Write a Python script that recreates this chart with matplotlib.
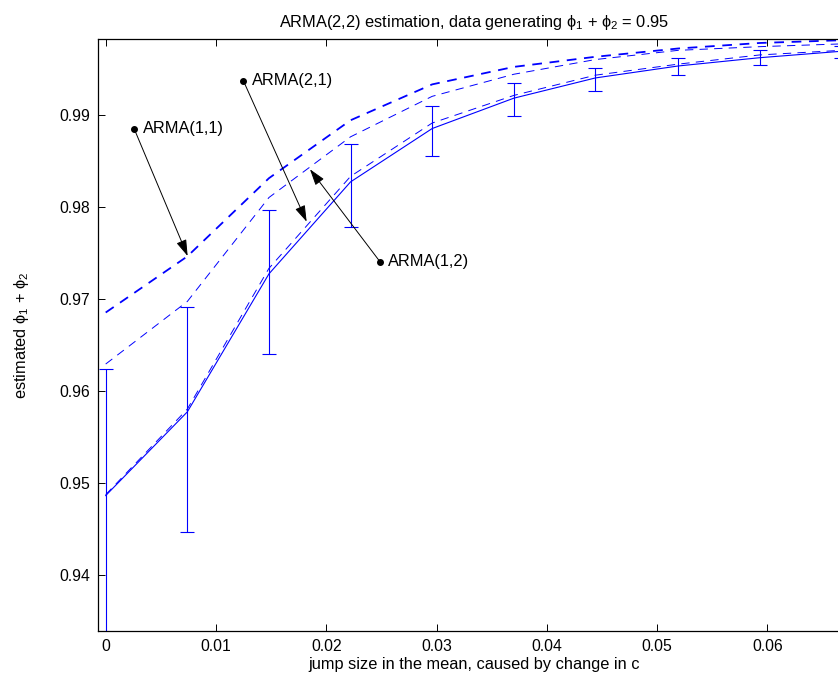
import matplotlib
matplotlib.use('Agg')
import matplotlib.pyplot as plt
import numpy as np

plt.rcParams['font.family'] = ['Liberation Sans', 'DejaVu Sans']
plt.rcParams['mathtext.fontset'] = 'custom'
plt.rcParams['mathtext.rm'] = 'Liberation Sans'
plt.rcParams['mathtext.it'] = 'Liberation Sans'
plt.rcParams['lines.scale_dashes'] = False

# DATA
jump = [0, 0.0074, 0.0148, 0.0222, 0.0296, 0.0370, 0.0444, 0.0519, 0.0593, 0.0667]
arma22 = [0.9486, 0.9577, 0.9727, 0.9827, 0.9885, 0.9918, 0.9940, 0.9953, 0.9962, 0.9969]
arma22_lo = [0.9330, 0.9446, 0.9640, 0.9778, 0.9855, 0.9899, 0.9926, 0.9943, 0.9954, 0.9962]
arma22_hi = [0.9624, 0.9691, 0.9796, 0.9868, 0.9910, 0.9935, 0.9951, 0.9962, 0.9970, 0.9975]
arma11 = [0.9685, 0.9746, 0.9831, 0.9894, 0.9933, 0.9952, 0.9963, 0.9972, 0.9978, 0.9981]
arma12 = [0.9629, 0.9697, 0.9810, 0.9876, 0.9920, 0.9944, 0.9960, 0.9970, 0.9974, 0.9977]
arma21 = [0.9487, 0.9580, 0.9733, 0.9833, 0.9891, 0.9921, 0.9943, 0.9955, 0.9965, 0.9970]

xticks = [0, 0.01, 0.02, 0.03, 0.04, 0.05, 0.06]
xticklabels = ['0', '0.01', '0.02', '0.03', '0.04', '0.05', '0.06']
yticks = [0.94, 0.95, 0.96, 0.97, 0.98, 0.99]
yticklabels = ['0.94', '0.95', '0.96', '0.97', '0.98', '0.99']

# annotation labels: (label, tail point with dot, arrow head point)
notes = [
    ('ARMA(1,1)', (0.00259, 0.98845), (0.00743, 0.97464)),
    ('ARMA(2,1)', (0.01248, 0.99370), (0.01822, 0.97837)),
    ('ARMA(1,2)', (0.02487, 0.97402), (0.01852, 0.98407)),
]

fs = 11.8

fig = plt.figure(figsize=(8.38, 6.81), dpi=100)
ax = fig.add_axes([98.3 / 838, 50 / 681, (850 - 98.3) / 838, (631 - 39.3) / 681])

blue = (0, 0, 1)
x = np.array(jump)
m = np.array(arma22)
yerr = [m - np.array(arma22_lo), np.array(arma22_hi) - m]

# estimated models (dashed)
ax.plot(x, arma11, color=blue, lw=1.3, linestyle=(0, (7, 5.5)))
ax.plot(x, arma12, color=blue, lw=0.7, linestyle=(0, (6, 4.5)))
ax.plot(x, arma21, color=blue, lw=0.7, linestyle=(0, (6, 4.5)))

# true model with error bars
ax.errorbar(x, m, yerr=yerr, color=blue, lw=0.8, elinewidth=0.8,
            capsize=5.3, capthick=0.8)

# annotations
for label, tail, head in notes:
    ax.annotate('', xy=head, xytext=tail,
                arrowprops=dict(arrowstyle='-|>,head_length=1.0,head_width=0.32',
                                color='k', lw=0.7, shrinkA=0, shrinkB=0))
    ax.plot(tail[0], tail[1], 'o', color='k', ms=4)
    ax.annotate(label, xy=tail, xytext=(6, 0), textcoords='offset points',
                va='center', ha='left', fontsize=fs)

ax.set_xlim(-0.00067, 0.06748)
ax.set_ylim(0.93388, 0.99820)
ax.set_xticks(xticks)
ax.set_xticklabels(xticklabels)
ax.set_yticks(yticks)
ax.set_yticklabels(yticklabels)
ax.tick_params(direction='in', length=5, width=0.7, top=True, right=True,
               labelsize=11.3, pad=6)
for s in ax.spines.values():
    s.set_linewidth(0.9)

ax.set_title(r'ARMA(2,2) estimation, data generating $\phi_1$ + $\phi_2$ = 0.95',
             fontsize=fs, pad=9)
ax.set_xlabel('jump size in the mean, caused by change in c', fontsize=fs, labelpad=2)
ax.set_ylabel(r'estimated $\phi_1$ + $\phi_2$', fontsize=fs, labelpad=20)

fig.savefig('out.png', dpi=100)
